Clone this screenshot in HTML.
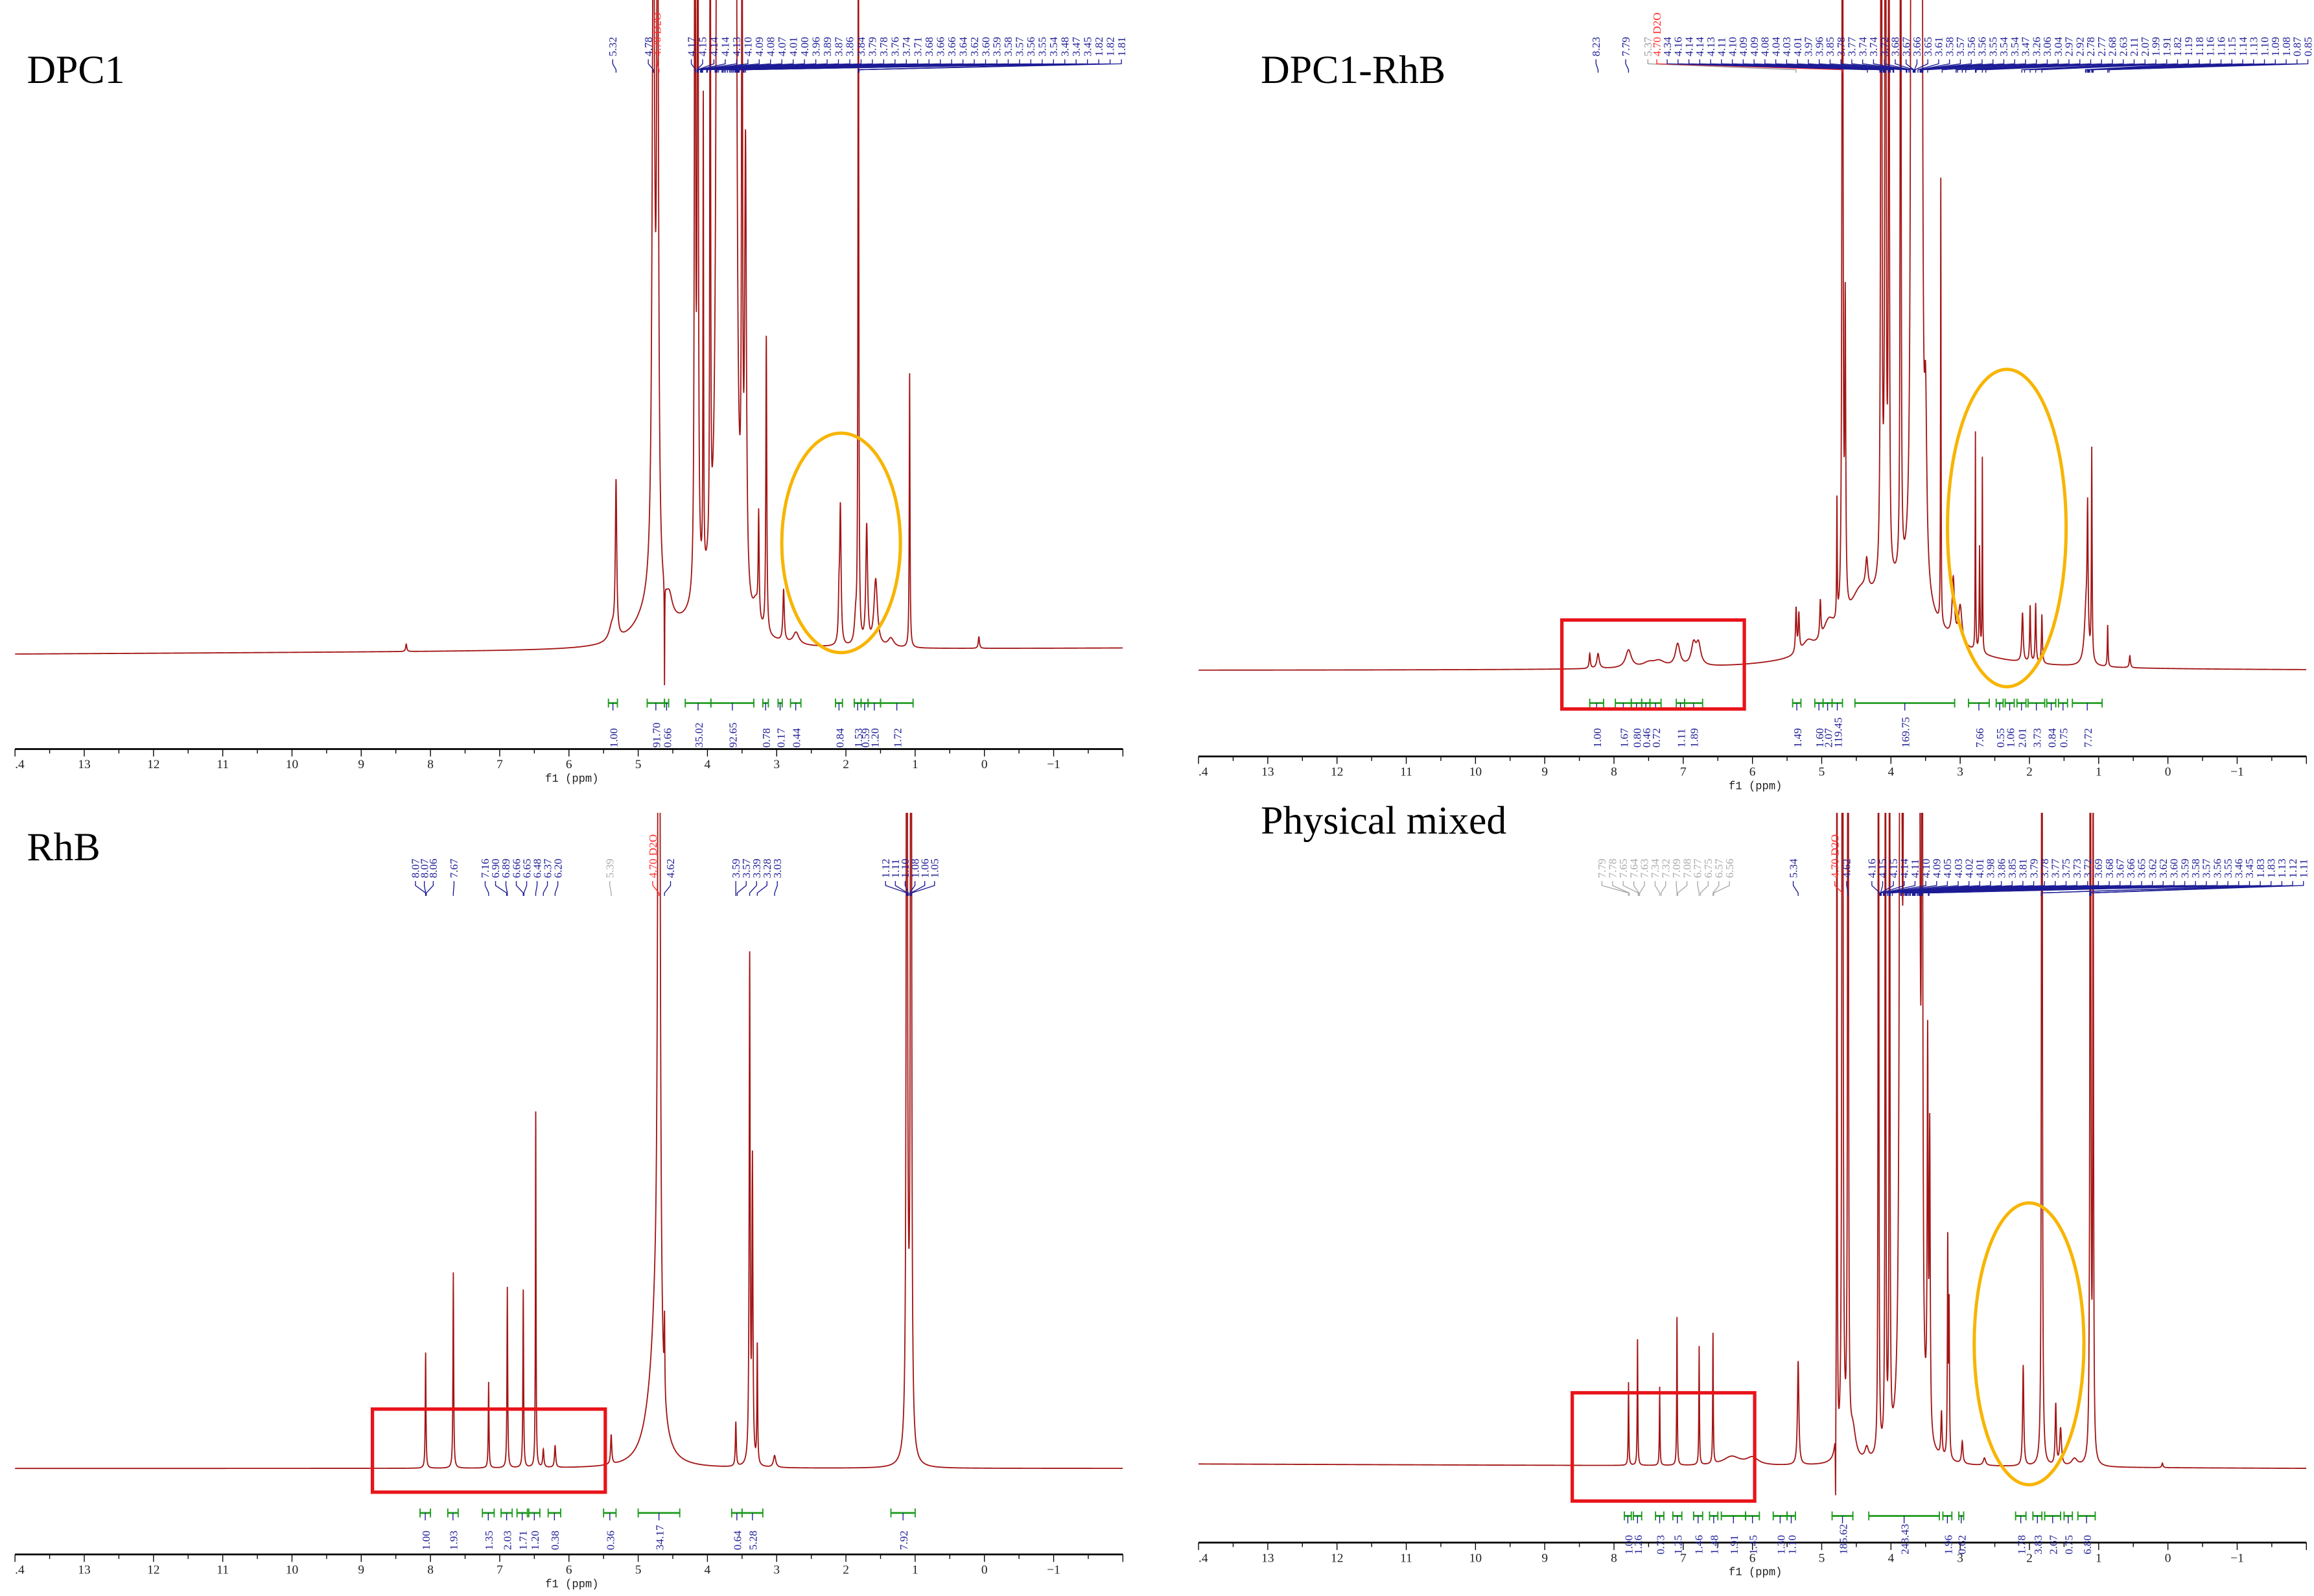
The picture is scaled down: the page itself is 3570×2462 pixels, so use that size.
<!DOCTYPE html>
<html><head><meta charset="utf-8"><style>
html,body{margin:0;padding:0;background:#fff;}
svg{display:block;}
</style></head><body>
<svg id="fig" xmlns="http://www.w3.org/2000/svg" width="3570" height="2462" viewBox="0 0 1560 1076">
<rect x="0" y="0" width="1560" height="1076" fill="#fff"/>
<defs>
<clipPath id="c0"><rect x="10" y="0" width="747" height="530"/></clipPath>
<clipPath id="c1"><rect x="808" y="0" width="747" height="530"/></clipPath>
<clipPath id="c2"><rect x="10" y="548" width="747" height="510"/></clipPath>
<clipPath id="c3"><rect x="808" y="548" width="747" height="510"/></clipPath>
</defs>
<g id="layer"></g>
</svg>
<script>
// ===== DATA =====
// Top-left DPC1
const tlPpm=[8.35,5.38,5.32,4.80,4.78,4.72,4.62,4.55,4.18,4.14,4.06,3.96,3.85,3.80,3.75,3.70,3.65,3.60,4.0,3.50,3.45,3.30,3.26,3.15,2.90,2.72,2.10,2.08,1.86,1.82,1.70,1.57,1.35,1.08,0.08];
const tlHeight=[5,10,104,25,500,500,-70,12,700,700,320,700,1200,1200,1200,1200,1200,1200,25,500,300,15,70,200,35,8,25,92,15,600,80,45,6,185,8];
const tlWidth=[0.01,0.05,0.012,0.25,0.02,0.015,0.003,0.05,0.008,0.008,0.005,0.005,0.015,0.015,0.015,0.015,0.015,0.015,0.3,0.008,0.015,0.05,0.008,0.008,0.012,0.05,0.01,0.012,0.02,0.006,0.015,0.03,0.05,0.006,0.01];
// Top-right DPC1-RhB
const trPpm=[8.35,8.23,7.79,7.5,7.35,7.08,6.85,6.78,5.37,5.33,5.20,5.02,4.9,4.78,4.70,4.66,4.45,4.35,4.14,4.08,4.03,3.86,3.70,3.665,3.63,3.595,3.56,3.9,3.50,3.28,3.1,3.0,2.78,2.72,2.68,2.1,1.99,1.91,1.82,1.18,1.16,1.10,0.87,0.55];
const trHeight=[10,10,12,3,4,15,14,14,30,25,8,25,15,80,700,200,25,20,800,800,800,800,1200,1200,1200,1200,1200,50,110,300,40,25,147,70,131,33,38,40,33,40,85,142,28,8];
const trWidth=[0.01,0.02,0.05,0.1,0.1,0.04,0.04,0.04,0.01,0.01,0.1,0.01,0.1,0.005,0.008,0.008,0.2,0.02,0.008,0.008,0.006,0.006,0.01,0.01,0.01,0.01,0.01,0.6,0.02,0.004,0.02,0.03,0.004,0.006,0.004,0.012,0.008,0.008,0.008,0.03,0.008,0.006,0.006,0.01];
// Bottom-left RhB
const blPpm=[8.07,7.67,7.16,6.89,6.66,6.48,6.37,6.20,5.39,4.80,4.75,4.70,4.62,3.59,3.39,3.35,3.28,3.03,1.12,1.06,1.10];
const blHeight=[78,132,58,122,120,240,12,15,20,30,60,900,50,30,340,200,80,8,900,900,30];
const blWidth=[0.006,0.006,0.006,0.006,0.006,0.005,0.01,0.01,0.01,0.15,0.07,0.015,0.005,0.008,0.008,0.008,0.006,0.02,0.008,0.008,0.04];
// Bottom-right Physical mixed
const brPpm=[7.79,7.66,7.34,7.09,6.77,6.57,6.3,6.0,5.34,4.80,4.78,4.70,4.62,4.55,4.35,4.18,4.08,4.02,3.86,3.80,3.75,3.70,3.65,3.60,3.55,3.47,3.44,3.27,3.18,3.16,2.97,2.65,2.09,1.82,1.62,1.55,1.35,1.12,1.08,0.08];
const brHeight=[56,85,53,100,80,88,6,5,70,-55,700,900,900,20,8,800,800,800,1200,1200,1200,1200,1200,1200,700,257,200,30,145,100,15,5,68,900,41,25,5,900,500,3];
const brWidth=[0.005,0.005,0.005,0.005,0.005,0.005,0.15,0.1,0.012,0.003,0.004,0.008,0.006,0.05,0.03,0.005,0.005,0.005,0.012,0.012,0.012,0.012,0.012,0.012,0.008,0.008,0.008,0.01,0.006,0.006,0.012,0.02,0.01,0.006,0.01,0.015,0.05,0.006,0.006,0.01];

// Peak label lists
const tlLabels=["4.17","4.15","4.14","4.14","4.13","4.10","4.09","4.08","4.07","4.01","4.00","3.96","3.89","3.87","3.86","3.84","3.79","3.78","3.76","3.74","3.71","3.68","3.66","3.66","3.64","3.62","3.60","3.59","3.58","3.57","3.56","3.55","3.54","3.48","3.47","3.45","1.82","1.82","1.81"];
const trLabels=["4.34","4.16","4.14","4.14","4.13","4.11","4.10","4.09","4.09","4.08","4.04","4.03","4.01","3.97","3.96","3.85","3.78","3.77","3.74","3.74","3.72","3.68","3.67","3.66","3.65","3.61","3.58","3.57","3.56","3.56","3.55","3.54","3.54","3.47","3.26","3.06","3.04","2.97","2.92","2.78","2.77","2.68","2.63","2.11","2.07","1.99","1.91","1.82","1.19","1.18","1.16","1.16","1.15","1.14","1.13","1.10","1.09","1.08","0.87","0.85"];
const blLabels=["8.07","8.07","8.06","7.67","7.16","6.90","6.89","6.66","6.65","6.48","6.37","6.20","5.39","4.70 D2O","4.62","3.59","3.57","3.39","3.28","3.03","1.12","1.11","1.10","1.08","1.06","1.05"];
const brLabels=["4.16","4.15","4.15","4.14","4.11","4.10","4.09","4.05","4.03","4.02","4.01","3.98","3.86","3.85","3.81","3.79","3.78","3.77","3.75","3.73","3.72","3.69","3.68","3.67","3.66","3.65","3.62","3.62","3.60","3.59","3.58","3.57","3.56","3.55","3.46","3.45","1.83","1.83","1.13","1.12","1.11"];
const brAromLabels=["7.79","7.78","7.65","7.64","7.63","7.34","7.32","7.09","7.08","6.77","6.75","6.57","6.56"];

// Integrals: start ppm, end ppm, value
const tlIntStart=[5.43,4.87,4.62,4.32,3.95,3.2,2.98,2.8,2.15,1.88,1.78,1.68,1.5];
const tlIntEnd=[5.30,4.62,4.56,3.95,3.33,3.12,2.92,2.65,2.05,1.78,1.68,1.5,1.03];
const tlIntVal=["1.00","91.70","0.66","35.02","92.65","0.78","0.17","0.44","0.84","1.53","0.59","1.20","1.72"];
const trIntStart=[8.35,7.98,7.75,7.6,7.48,7.1,6.98,5.42,5.1,4.98,4.85,4.52,2.88,2.48,2.35,2.18,2.02,1.75,1.58,1.38];
const trIntEnd=[8.15,7.75,7.6,7.48,7.32,6.98,6.72,5.3,4.98,4.85,4.7,3.08,2.58,2.38,2.22,2.05,1.78,1.62,1.45,0.95];
const trIntVal=["1.00","1.67","0.80","0.46","0.72","1.11","1.89","1.49","1.60","2.07","119.45","169.75","7.66","0.55","1.06","2.01","3.73","0.84","0.75","7.72"];
const blIntStart=[8.15,7.75,7.25,6.98,6.75,6.58,6.3,5.5,5.0,3.65,3.5,1.35];
const blIntEnd=[8.0,7.6,7.08,6.82,6.6,6.42,6.12,5.32,4.4,3.5,3.2,1.0];
const blIntVal=["1.00","1.93","1.35","2.03","1.71","1.20","0.38","0.36","34.17","0.64","5.28","7.92"];
const brIntStart=[7.85,7.72,7.4,7.15,6.85,6.62,6.45,6.1,5.7,5.5,4.85,4.32,3.25,3.02,2.2,1.95,1.78,1.5,1.3];
const brIntEnd=[7.75,7.6,7.28,7.02,6.72,6.5,6.1,5.9,5.5,5.38,4.55,3.3,3.12,2.95,2.05,1.82,1.55,1.38,1.05];
const brIntVal=["1.00","1.26","0.73","1.25","1.46","1.48","1.91","1.45","1.30","1.10","185.62","243.43","1.96","0.62","1.78","3.83","2.67","0.75","6.80"];

const axisTicks=[13,12,11,10,9,8,7,6,5,4,3,2,1,0,-1];

// ===== DRAWING =====
const NS="http://www.w3.org/2000/svg";
const layer=document.getElementById('layer');
function mk(tag,attrs,parent){const e=document.createElementNS(NS,tag);for(const k in attrs)e.setAttribute(k,attrs[k]);(parent||layer).appendChild(e);return e;}

const panels=[
 {id:'dpc1',x0:10,x1:757,axisY:505,baseL:441,baseR:437,clip:'c0',title:'DPC1',tx:18,ty:56,ppm:tlPpm,h:tlHeight,w:tlWidth,
  intY:474,valOff:30,is:tlIntStart,ie:tlIntEnd,iv:tlIntVal,labY:38,fanY:47},
 {id:'dpc1-rhb',x0:808,x1:1555,axisY:510,baseL:452,baseR:452,clip:'c1',title:'DPC1-RhB',tx:850,ty:56,ppm:trPpm,h:trHeight,w:trWidth,
  intY:474,valOff:30,is:trIntStart,ie:trIntEnd,iv:trIntVal,labY:38,fanY:47},
 {id:'rhb',x0:10,x1:757,axisY:1048,baseL:990,baseR:990,clip:'c2',title:'RhB',tx:18,ty:580,ppm:blPpm,h:blHeight,w:blWidth,
  intY:1020,valOff:25,is:blIntStart,ie:blIntEnd,iv:blIntVal,labY:592,fanY:602},
 {id:'physical-mixed',x0:808,x1:1555,axisY:1040,baseL:987,baseR:990,clip:'c3',title:'Physical mixed',tx:850,ty:562,ppm:brPpm,h:brHeight,w:brWidth,
  intY:1022,valOff:26,is:brIntStart,ie:brIntEnd,iv:brIntVal,labY:592,fanY:602}
];
function X(P,p){return P.x0+(14-p)*(P.x1-P.x0)/16;}

panels.forEach((P,pi)=>{
  const g=mk('g',{});
  
  
  let pts=[];
  for(let p=14;p>=-2;p-=0.003)pts.push(p);
  P.ppm.forEach(c=>pts.push(c));
  pts.sort((a,b)=>b-a);
  let d='';
  pts.forEach((p,i)=>{
    const base=P.baseL+(P.baseR-P.baseL)*(14-p)/16;
    let s=0;
    for(let k=0;k<P.ppm.length;k++){const u=(p-P.ppm[k])/P.w[k];s+=P.h[k]/(1+u*u);}
    let y=base-s; if(y<-50)y=-50;
    d+=(i?'L':'M')+X(P,p).toFixed(2)+' '+y.toFixed(2);
  });
  const sp=mk('path',{d:d,fill:'none',stroke:'#a31515','stroke-width':0.8,'clip-path':'url(#'+P.clip+')'},g);
  
  
  const t=mk('text',{x:P.tx,y:P.ty,'font-family':'Liberation Serif, serif','font-size':27,fill:'#000'},g);
  t.textContent=P.title;
  
  
  const ax=mk('g',{},g);
  
  
  mk('line',{x1:P.x0,x2:P.x1,y1:P.axisY,y2:P.axisY,stroke:'#000','stroke-width':1.2},ax);
  for(let p=14;p>=-2;p-=0.5){
    const major=Math.abs(p-Math.round(p))<1e-6;
    mk('line',{x1:X(P,p),x2:X(P,p),y1:P.axisY,y2:P.axisY+(major?5:3),stroke:'#000','stroke-width':0.6},ax);
  }
  axisTicks.forEach(v=>{
    const tl=mk('text',{x:X(P,v),y:P.axisY+13,'font-family':'Liberation Serif, serif','font-size':8.5,'text-anchor':'middle',fill:'#222'},ax);
    tl.textContent=v<0?'\u2212'+(-v):String(v);
    
    
  });
  const e1=mk('text',{x:P.x0,y:P.axisY+13,'font-family':'Liberation Serif, serif','font-size':8.5,fill:'#222'},ax);e1.textContent='.4';
  const xt=mk('text',{x:(P.x0+P.x1)/2+2,y:P.axisY+22,'font-family':'Liberation Mono, monospace','font-size':7.5,'text-anchor':'middle',fill:'#222'},ax);
  xt.textContent='f1 (ppm)';
  
  
  const ig=mk('g',{},g);
  
  
  P.is.forEach((s,k)=>{
    const xa=X(P,s),xb=X(P,P.ie[k]);
    mk('line',{x1:xa,x2:xb,y1:P.intY,y2:P.intY,stroke:'#1a9a1a','stroke-width':1.2},ig);
    mk('line',{x1:xa,x2:xa,y1:P.intY-3,y2:P.intY+3,stroke:'#1a9a1a','stroke-width':0.8},ig);
    mk('line',{x1:xb,x2:xb,y1:P.intY-3,y2:P.intY+3,stroke:'#1a9a1a','stroke-width':0.8},ig);
    const xm=(xa+xb)/2;
    mk('line',{x1:xm,x2:xm,y1:P.intY,y2:P.intY+5,stroke:'#1c1c96','stroke-width':0.6},ig);
    const vt=mk('text',{x:0,y:0,transform:'translate('+(xm+3)+','+(P.intY+P.valOff)+') rotate(-90)','font-family':'Liberation Serif, serif','font-size':7.5,fill:'#1c1c96'},ig);
    vt.textContent=P.iv[k];
    
    
  });
});

function labelGroup(P,list,xs,xe,color){
  const g=mk('g',{});
  
  
  const n=list.length;
  list.forEach((s,i)=>{
    const lx=n>1?xs+(xe-xs)*i/(n-1):xs;
    const pp=parseFloat(s);
    const px=X(P,pp);
    let col=color;
    if(s.indexOf('D2O')>=0)col='#ff2a2a';
    const tx=mk('text',{x:0,y:0,transform:'translate('+(lx+2.5)+','+(P.labY)+') rotate(-90)','font-family':'Liberation Serif, serif','font-size':7.5,fill:col},g);
    tx.textContent=s;
    
    
    mk('polyline',{points:lx+','+(P.labY+2)+' '+lx+','+(P.labY+5)+' '+px+','+(P.fanY)+' '+px+','+(P.fanY+2),fill:'none',stroke:col,'stroke-width':0.6},g);
  });
}
labelGroup(panels[0],["5.32"],413,413,'#1c1c96');
labelGroup(panels[0],["4.78","4.70 D2O"],437,443,'#1c1c96');
labelGroup(panels[0],tlLabels,466,756,'#1c1c96');
labelGroup(panels[1],["8.23"],1076,1076,'#1c1c96');
labelGroup(panels[1],["7.79"],1096,1096,'#1c1c96');
labelGroup(panels[1],["5.37","4.70 D2O"],1111,1117,'#999');
labelGroup(panels[1],trLabels,1124,1556,'#1c1c96');
labelGroup(panels[2],blLabels.slice(0,3),280,292,'#1c1c96');
labelGroup(panels[2],blLabels.slice(3,4),306,306,'#1c1c96');
labelGroup(panels[2],blLabels.slice(4,12),327,376,'#1c1c96');
labelGroup(panels[2],blLabels.slice(12,13),411,411,'#aaa');
labelGroup(panels[2],blLabels.slice(13,15),440,452,'#1c1c96');
labelGroup(panels[2],blLabels.slice(15,20),496,524,'#1c1c96');
labelGroup(panels[2],blLabels.slice(20),597,630,'#1c1c96');
labelGroup(panels[3],brAromLabels,1080,1166,'#aaa');
labelGroup(panels[3],["5.34"],1209,1209,'#1c1c96');
labelGroup(panels[3],["4.70 D2O","4.62"],1237,1245,'#1c1c96');
labelGroup(panels[3],brLabels,1262,1553,'#1c1c96');

function ell(cx,cy,rx,ry,name){const e=mk('ellipse',{cx:cx,cy:cy,rx:rx,ry:ry,fill:'none',stroke:'#f7b500','stroke-width':2.2});
  
  }
function box(x,y,w,h,name){const e=mk('rect',{x:x,y:y,width:w,height:h,fill:'none',stroke:'#e8141a','stroke-width':2.3});
  
  }
ell(567,366,40,74,'dpc1-highlight-ellipse');
ell(1353,356,40,107,'dpc1-rhb-highlight-ellipse');
ell(1368,906,37,95,'physical-mixed-highlight-ellipse');
box(1053,418,123,60,'dpc1-rhb-aromatic-box');
box(251,950,157,56,'rhb-aromatic-box');
box(1060,939,123,73,'physical-mixed-aromatic-box');
</script>
</body></html>
